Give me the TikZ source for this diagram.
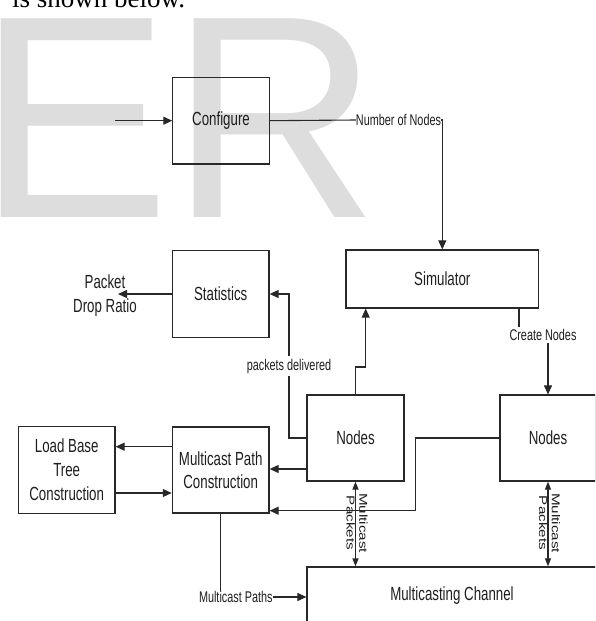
\documentclass[tikz,border=0pt]{standalone}
\usepackage{fontspec}
\setmainfont{Liberation Serif}
\newfontfamily\dfont[FakeStretch=0.7]{Liberation Sans}
\newfontfamily\wfont{Liberation Sans}
\usetikzlibrary{arrows.meta}
\definecolor{wmark}{RGB}{221,221,221}
\definecolor{ln}{RGB}{40,40,40}
\definecolor{tx}{RGB}{30,30,30}
\begin{document}
\begin{tikzpicture}[x=1pt,y=-1pt,
  box/.style={draw=ln, line width=1.2pt, inner sep=0pt, align=center,
    font=\dfont\fontsize{19}{24}\selectfont, text=tx},
  lab/.style={inner sep=0pt, font=\dfont\fontsize{15.5}{18}\selectfont, text=tx},
  big/.style={inner sep=0pt, align=center, font=\dfont\fontsize{19}{24.5}\selectfont, text=tx},
  rot/.style={rotate=-90, inner sep=0pt, font=\wfont\fontsize{15.2}{17}\selectfont, text=tx},
  conn/.style={draw=ln, line width=1.1pt},
  arr/.style={conn, -{Triangle[length=9pt,width=8pt]}},
  arrtwo/.style={conn, {Triangle[length=8pt,width=6pt]}-{Triangle[length=8pt,width=6pt]}}]
\useasboundingbox (0,0) rectangle (595,621);
\clip (0,0) rectangle (595,621);
% watermark and cut top line
\node[anchor=base west, inner sep=0pt, text=wmark, font=\wfont\fontsize{289}{289}\selectfont] (wm) at (-22.8,217) {ER};
\node[anchor=base west, inner sep=0pt, font=\fontsize{27}{30}\selectfont] (toptext) at (12,7.5) {is shown below.};
% boxes
\node[box, minimum width=96.3pt, minimum height=86.7pt] (conf) at (221,120.7) {Configure};
\node[box, minimum width=192.7pt, minimum height=58pt] (sim) at (442.3,279) {Simulator};
\node[box, minimum width=96.7pt, minimum height=86.3pt] (stat) at (220.7,294) {Statistics};
\node[box, minimum width=97pt, minimum height=86pt] (n1) at (355.5,438) {Nodes};
\node[box, minimum width=96pt, minimum height=86pt] (n2) at (548,438) {Nodes};
\node[box, minimum width=96.7pt, minimum height=86.3pt] (lb) at (66.7,470) {Load Base\\Tree\\Construction};
\node[box, minimum width=96.7pt, minimum height=86pt, font=\dfont\fontsize{19}{23}\selectfont] (mpc) at (220.7,470) {Multicast Path\\Construction};
\node[box, minimum width=290pt, minimum height=58pt] (ch) at (452,596) {Multicasting Channel};
% labels
\node[big] (pdr) at (105,295.5) {Packet\\Drop Ratio};
\node[lab] (nn) at (398.5,120) {Number of Nodes};
\node[lab, inner sep=2.5pt] (cn) at (543,335) {Create Nodes};
\node[lab, inner sep=2.5pt] (pd) at (289,366) {packets delivered};
\node[lab] (mp) at (235.8,597) {Multicast Paths};
\node[rot] (mc1) at (355.5,523) {\scalebox{1}[0.75]{\begin{tabular}{@{}c@{}}Multicast\\Packets\end{tabular}}};
\node[rot] (mc2) at (548,523) {\scalebox{1}[0.75]{\begin{tabular}{@{}c@{}}Multicast\\Packets\end{tabular}}};
% free ends and bends
\coordinate (inp) at (115,120.7);
\coordinate (pdrend) at (118,294);
\coordinate (cnx) at (519,0);
\coordinate (step) at (365.7,367);
\coordinate (jog) at (415.7,510.7);
% connectors
\draw[arr] (inp) -- (conf.west);
\draw[conn] (conf.east) -- (nn.west);
\draw[arr] (nn.east) -| (sim.north);
\draw[conn] (sim.south -| cnx) -- (cn.north -| cnx);
\draw[arr] (cn.south -| n2.north) -- (n2.north);
\draw[arr] (n1.north) |- (step) -- (step |- sim.south);
\draw[conn] (n1.west) -| (pd.south);
\draw[arr] (pd.north) |- (stat.east);
\draw[arr] (stat.west) -- (pdrend);
\draw[arr] ([yshift=23.3pt]mpc.west) -- ([yshift=23.3pt]mpc.west -| lb.east);
\draw[arr] ([yshift=-23pt]lb.east) -- ([yshift=-23pt]lb.east -| mpc.west);
\draw[arr] ([yshift=-31pt]n1.west) -- ([yshift=-31pt]n1.west -| mpc.east);
\draw[arr] (n2.west) -| (jog) -- (jog -| mpc.east);
\draw[conn, line width=0.9pt] (mpc.south) -- (mpc.south |- mp.north);
\draw[arr] (mp.east) -- (mp.east -| ch.west);
\draw[arrtwo] (n1.south) -- (n1.south |- ch.north);
\draw[arrtwo] (n2.south) -- (n2.south |- ch.north);
\end{tikzpicture}
\end{document}
